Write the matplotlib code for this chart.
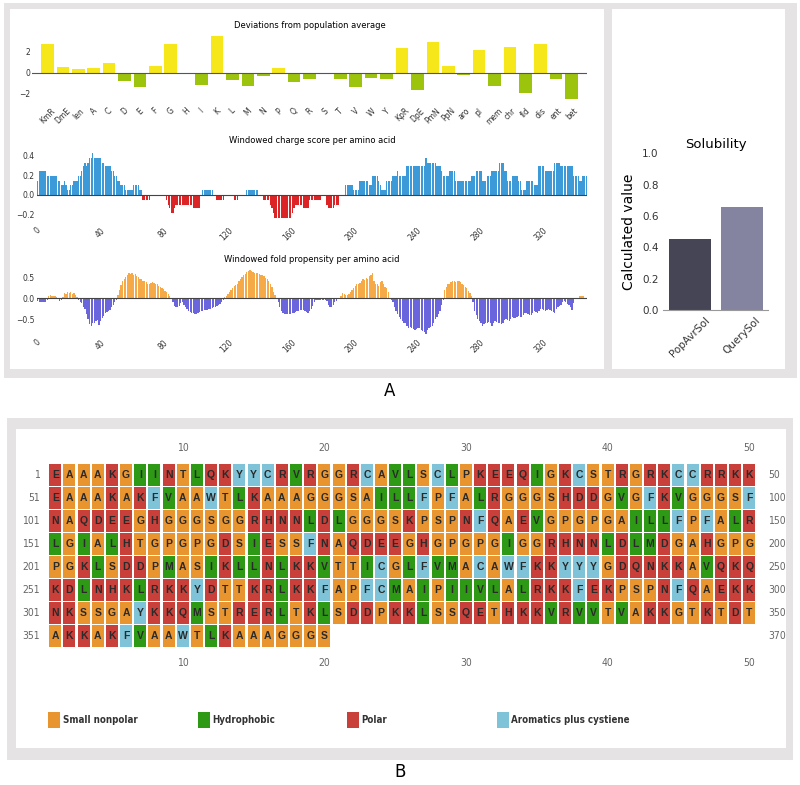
import numpy as np
import matplotlib.pyplot as plt
from matplotlib.patches import Rectangle

# ---- panel A data ----
dev_labels = ['KmR', 'DmE', 'len', 'A', 'C', 'D', 'E', 'F', 'G', 'H', 'I', 'K', 'L', 'M',
              'N', 'P', 'Q', 'R', 'S', 'T', 'V', 'W', 'Y', 'KpR', 'DpE', 'PmN', 'PpN',
              'aro', 'pI', 'mem', 'chr', 'fld', 'dis', 'ent', 'bet']
dev_values = [2.73, 0.57, 0.35, 0.41, 0.89, -0.79, -1.33, 0.63, 2.73, -0.03,
              -1.17, 3.49, -0.73, -1.24, -0.29, 0.44, -0.92, -0.60, 0.0, -0.57,
              -1.40, -0.48, -0.63, 2.32, -1.65, 2.95, 0.63, -0.22, 2.13, -1.27,
              2.44, -1.90, 2.73, -0.57, -2.48]

# windowed charge: step levels and how many residues each level lasts
charge_levels = [0.14, 0.24, 0.19, 0.14, 0.10, 0.14, 0.10, 0.05, 0.10, 0.14,
                 0.19, 0.24, 0.29, 0.33, 0.29, 0.33, 0.38, 0.43, 0.38, 0.33,
                 0.29, 0.24, 0.19, 0.14, 0.10, 0.05, 0.10, 0.05, -0.05, 0.0,
                 -0.05, -0.10, -0.14, -0.19, -0.14, -0.10, -0.14, 0.0, 0.05, 0.0,
                 -0.05, 0.0, -0.05, 0.0, 0.05, 0.0, -0.05, -0.10, -0.14, -0.19,
                 -0.24, -0.19, -0.14, -0.10, -0.14, -0.05, 0.0, -0.10, -0.14, -0.10,
                 0.0, 0.10, 0.05, 0.14, 0.10, 0.19, 0.14, 0.10, 0.05, 0.14,
                 0.19, 0.24, 0.19, 0.29, 0.38, 0.33, 0.29, 0.24, 0.19, 0.24,
                 0.14, 0.19, 0.24, 0.14, 0.19, 0.24, 0.33, 0.24, 0.14, 0.19,
                 0.14, 0.05, 0.14, 0.10, 0.29, 0.24, 0.33, 0.29, 0.19, 0.14,
                 0.19]
charge_runs = [1, 5, 7, 2, 2, 1, 1, 2, 2, 3,
               2, 1, 1, 1, 1, 1, 2, 1, 5, 2,
               4, 2, 2, 2, 3, 5, 4, 2, 5, 10,
               1, 1, 1, 2, 1, 11, 5, 1, 7, 2,
               5, 6, 3, 5, 8, 3, 4, 1, 1, 1,
               11, 1, 1, 5, 4, 8, 3, 1, 4, 3,
               4, 5, 4, 6, 2, 4, 1, 1, 3, 4,
               3, 1, 5, 12, 1, 6, 3, 1, 4, 4,
               10, 3, 4, 3, 3, 5, 3, 2, 3, 4,
               2, 3, 5, 3, 4, 6, 4, 8, 4, 2,
               3]

fold_values = [
    -0.06, -0.08, -0.08, -0.08, -0.08, -0.08, -0.05, 0.06, 0.08, 0.06,
    0.06, 0.05, 0.04, -0.02, -0.06, -0.03, 0.02, 0.12, 0.10, 0.14,
    0.12, 0.15, 0.10, 0.13, 0.08, 0.04, -0.05, -0.10, -0.12, -0.20,
    -0.25, -0.38, -0.50, -0.62, -0.66, -0.60, -0.58, -0.55, -0.52, -0.63,
    -0.55, -0.48, -0.42, -0.36, -0.33, -0.30, -0.28, -0.22, -0.15, -0.08,
    -0.03, 0.08, 0.20, 0.32, 0.40, 0.45, 0.50, 0.55, 0.60, 0.58,
    0.60, 0.55, 0.58, 0.52, 0.50, 0.47, 0.45, 0.42, 0.40, 0.38,
    0.35, 0.33, 0.36, 0.38, 0.36, 0.35, 0.33, 0.30, 0.28, 0.25,
    0.22, 0.18, 0.14, 0.10, 0.05, -0.02, -0.10, -0.18, -0.20, -0.20,
    -0.18, -0.12, -0.10, -0.15, -0.20, -0.25, -0.30, -0.32, -0.35, -0.36,
    -0.38, -0.37, -0.34, -0.33, -0.31, -0.30, -0.29, -0.28, -0.27, -0.26,
    -0.25, -0.23, -0.22, -0.20, -0.18, -0.16, -0.13, -0.09, -0.04, 0.02,
    0.05, 0.10, 0.16, 0.20, 0.25, 0.30, 0.32, 0.35, 0.40, 0.45,
    0.50, 0.55, 0.58, 0.62, 0.64, 0.68, 0.65, 0.62, 0.60, 0.61,
    0.60, 0.58, 0.56, 0.55, 0.52, 0.48, 0.45, 0.40, 0.35, 0.28,
    0.15, 0.08, 0.00, -0.10, -0.20, -0.30, -0.35, -0.37, -0.38, -0.38,
    -0.38, -0.37, -0.35, -0.35, -0.33, -0.31, -0.30, -0.29, -0.28, -0.29,
    -0.30, -0.33, -0.35, -0.30, -0.25, -0.18, -0.10, -0.05, -0.04, -0.04,
    -0.04, -0.05, -0.04, -0.05, -0.06, -0.15, -0.20, -0.22, -0.15, -0.08,
    -0.06, 0.00, 0.00, 0.05, 0.12, 0.10, 0.08, 0.08, 0.10, 0.15,
    0.20, 0.25, 0.30, 0.35, 0.33, 0.36, 0.40, 0.45, 0.44, 0.48,
    0.45, 0.52, 0.55, 0.60, 0.42, 0.35, 0.33, 0.30, 0.38, 0.40,
    0.35, 0.28, 0.25, 0.15, -0.02, -0.05, -0.10, -0.20, -0.30, -0.38,
    -0.45, -0.50, -0.55, -0.58, -0.60, -0.65, -0.70, -0.68, -0.72, -0.73,
    -0.75, -0.73, -0.72, -0.70, -0.76, -0.78, -0.80, -0.85, -0.75, -0.70,
    -0.68, -0.65, -0.58, -0.50, -0.45, -0.38, -0.30, -0.15, -0.05, 0.20,
    0.28, 0.33, 0.35, 0.38, 0.42, 0.40, 0.38, 0.40, 0.40, 0.38,
    0.35, 0.32, 0.28, 0.25, 0.18, 0.12, 0.05, -0.10, -0.30, -0.40,
    -0.50, -0.55, -0.60, -0.65, -0.62, -0.60, -0.58, -0.56, -0.60, -0.65,
    -0.60, -0.55, -0.57, -0.60, -0.58, -0.62, -0.60, -0.52, -0.50, -0.53,
    -0.55, -0.50, -0.45, -0.47, -0.48, -0.45, -0.42, -0.44, -0.45, -0.40,
    -0.35, -0.36, -0.38, -0.39, -0.40, -0.35, -0.30, -0.32, -0.35, -0.30,
    -0.26, -0.25, -0.28, -0.30, -0.27, -0.25, -0.28, -0.30, -0.32, -0.35,
    -0.25, -0.20, -0.18, -0.15, -0.10, -0.06, -0.08, -0.14, -0.15, -0.20,
    -0.28, -0.12, -0.02, 0.00, 0.00, 0.06, 0.06, 0.06, 0.00, 0.00]

sol_labels = ['PopAvrSol', 'QuerySol']
sol_values = [0.45, 0.66]

# ---- panel B data ----
seq_rows = [
    "EAAAKGIINTLQKYYCRVRGGRCAVLSCLPKEEQIGKCSTRGRKCCRRKK",
    "EAAAKAKFVAAWTLKAAAGGGSAILLFPFALRGGGSHDDGVGFKVGGGSF",
    "NAQDEEGHGGGSGGRHNNLDLGGGSKPSPNFQAEVGPGPGAILLFPFALR",
    "LGIALHTGPGPGDSIESSFNAQDEEGHGPGPGIGGRHNNLDLMDGAHGPG",
    "PGKLSDDPMASIKLLNLKKVTTICGLFVMACAWFKKYYYGDQNKKAVQKQ",
    "KDLNHKLRKKYDTTKRLKKFAPFCMAIPIIVLALRKKFEKPSPNFQAEKK",
    "NKSSGAYKKQMSTRERLTKLSDDPKKLSSQETHKKVRVVTVAKKGTKTDT",
    "AKKAKFVAAWTLKAAAGGGS",
]
row_start = [1, 51, 101, 151, 201, 251, 301, 351]
row_end = [50, 100, 150, 200, 250, 300, 350, 370]
group_names = ['Small nonpolar', 'Hydrophobic', 'Polar', 'Aromatics plus cystiene']
group_members = ['AGSTP', 'ILVM', 'DEKRNQH', 'FWYC']
group_colors = ['#e8952f', '#2e9914', '#c9403a', '#7fc3d9']

W, H = 800, 785
fig = plt.figure(figsize=(8, 7.85), dpi=100)


def px_axes(x0, y0, x1, y1):
    return fig.add_axes([x0 / W, 1 - y1 / H, (x1 - x0) / W, (y1 - y0) / H])


def clean(ax):
    for s in ax.spines.values():
        s.set_visible(False)
    ax.tick_params(length=0, labelsize=5.5, colors='#333333', pad=1.5)
    ax.patch.set_alpha(0)


# frames
bg = px_axes(0, 0, W, H)
bg.set_xlim(0, W)
bg.set_ylim(H, 0)
bg.axis('off')
for x0, y0, x1, y1, c in [(4, 3, 797, 378, '#e5e3e3'), (10, 9, 604, 369, 'white'),
                          (612, 9, 785, 369, 'white'), (7, 418, 793, 760, '#e5e3e3'),
                          (16, 429, 786, 748, 'white')]:
    bg.add_patch(Rectangle((x0, y0), x1 - x0, y1 - y0, color=c, lw=0))
bg.text(390, 391, 'A', ha='center', va='center', fontsize=12)
bg.text(400, 772, 'B', ha='center', va='center', fontsize=12)

# deviations
ax1 = px_axes(32, 30.7, 587, 104.2)
x = np.arange(len(dev_values))
ax1.bar(x, dev_values, width=0.82,
        color=['#f6e71a' if v >= 0 else '#9cc40c' for v in dev_values])
ax1.axhline(0, color='#555555', lw=0.8)
ax1.set_xlim(-1, len(dev_values))
ax1.set_ylim(-3, 4)
ax1.set_yticks([-2, 0, 2])
ax1.set_xticks(x)
ax1.set_xticklabels(dev_labels, rotation=45, ha='center', fontsize=5)
ax1.set_title('Deviations from population average', fontsize=6, pad=2)
clean(ax1)

# charge
charge = np.repeat(charge_levels, charge_runs)
pos = np.arange(len(charge))
ax2 = px_axes(37, 146, 587, 224)
ax2.bar(pos, charge, width=0.9, color=np.where(charge >= 0, '#3d9ad8', '#dc2326'))
ax2.axhline(0, color='#444444', lw=0.8)
ax2.set_xlim(-0.5, len(charge) - 0.5)
ax2.set_ylim(-0.3, 0.5)
ax2.set_yticks([-0.2, 0.0, 0.2, 0.4])
ax2.set_xticks(range(0, 321, 40))
ax2.tick_params(axis='x', labelrotation=45)
ax2.set_title('Windowed charge score per amino acid', fontsize=6, pad=2)
clean(ax2)

# fold propensity
fold = np.array(fold_values)
ax3 = px_axes(37, 264.7, 587, 336)
ax3.bar(np.arange(len(fold)), fold, width=0.9,
        color=np.where(fold >= 0, '#f5a947', '#6a65dc'))
ax3.axhline(0, color='#444444', lw=0.8)
ax3.set_xlim(-0.5, len(fold) - 0.5)
ax3.set_ylim(-0.9, 0.8)
ax3.set_yticks([-0.5, 0.0, 0.5])
ax3.set_xticks(range(0, 321, 40))
ax3.tick_params(axis='x', labelrotation=45)
ax3.set_title('Windowed fold propensity per amino acid', fontsize=6, pad=2)
clean(ax3)

# solubility
ax4 = px_axes(663.3, 153.3, 768.3, 310)
ax4.bar([0, 1], sol_values, width=0.8, color=['#454555', '#8484a0'])
ax4.set_xlim(-0.5, 1.5)
ax4.set_ylim(0, 1)
ax4.set_xticks([0, 1])
ax4.set_xticklabels(sol_labels, rotation=45, ha='center')
ax4.set_yticks(np.arange(0, 1.01, 0.2))
ax4.set_ylabel('Calculated value', fontsize=10, labelpad=4)
ax4.set_title('Solubility', fontsize=9.5, pad=4)
for s in ['top', 'right', 'left']:
    ax4.spines[s].set_visible(False)
ax4.spines['bottom'].set_color('#999999')
ax4.tick_params(length=0, labelsize=7.5, colors='#333333')
ax4.patch.set_alpha(0)

# sequence grid
axB = px_axes(16, 429, 786, 748)
axB.set_xlim(-1.775, 52.6)
axB.set_ylim(11.87, -2)
axB.axis('off')
num_style = dict(fontsize=7.5, color='#666666', family='DejaVu Sans', fontstretch='condensed')
color_of = {aa: group_colors[g] for g, members in enumerate(group_members) for aa in members}
cw, ch = 0.847, 0.935
for r, row in enumerate(seq_rows):
    for c, aa in enumerate(row, start=1):
        axB.add_patch(Rectangle((c - cw / 2, r - ch / 2), cw, ch, color=color_of[aa], lw=0))
        axB.text(c, r, aa, ha='center', va='center', fontsize=7.5, fontweight='bold',
                 color='#2a2a2a', family=['Liberation Sans', 'DejaVu Sans'])
    axB.text(-0.1, r, str(row_start[r]), ha='right', va='center', **num_style)
    axB.text(51.35, r, str(row_end[r]), ha='left', va='center', **num_style)
for c in range(10, 51, 10):
    axB.text(c, -1.17, str(c), ha='center', va='center', **num_style)
    axB.text(c, 8.17, str(c), ha='center', va='center', **num_style)

# legend
for i, name in enumerate(group_names):
    x0 = 0.94 + i * 10.55
    axB.add_patch(Rectangle((x0 - 0.42, 10.65 - 0.36), 0.84, 0.72, color=group_colors[i], lw=0))
    axB.text(x0 + 0.6, 10.65, name, ha='left', va='center', fontsize=7,
             fontweight='bold', color='#333333', family='DejaVu Sans', fontstretch='condensed')

fig.savefig('out.png', dpi=100)
